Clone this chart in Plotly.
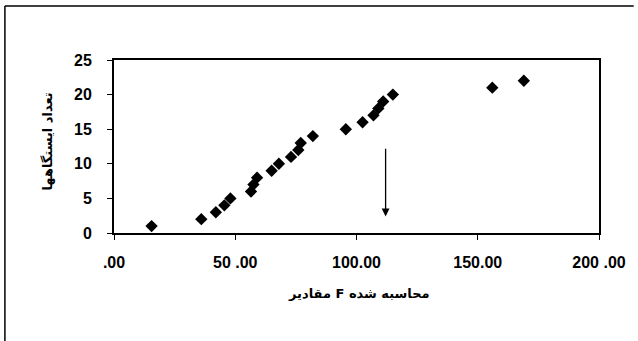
import plotly.graph_objects as go

# Data
f_values = [15.5, 36, 42, 45.5, 48, 56.5, 57.5, 59, 65, 68, 73, 76, 77, 82,
            95.6, 102.5, 107, 109, 111, 115, 156, 169]
station_counts = [1, 2, 3, 4, 5, 6, 7, 8, 9, 10, 11, 12, 13, 14,
                  15, 16, 17, 18, 19, 20, 21, 22]
x_tickvals = [0, 50, 100, 150, 200]
x_ticktext = [".00", "50 .00", "100.00", "150.00", "200 .00"]
y_tickvals = [0, 5, 10, 15, 20, 25]
arrow_x = 112
arrow_from_y = 12.4
arrow_to_y = 2.4

x_title = "مقادیر F محاسبه شده"
y_title = "تعداد ایستگاهها"

W, H = 638, 341
L, R, T, B = 114, 603, 60, 233  # plot area in pixels

def px_x(p):
    return (p - L) / (R - L)

def px_y(p):
    return (B - p) / (B - T)

fig = go.Figure()
fig.add_trace(go.Scatter(
    x=f_values, y=station_counts, mode="markers",
    marker=dict(symbol="diamond", size=9.5, color="black"),
    showlegend=False, hoverinfo="x+y",
))

font_main = "Liberation Sans, Arial, DejaVu Sans, sans-serif"

fig.update_layout(
    width=W, height=H,
    margin=dict(l=L, r=W - R, t=T, b=H - B, pad=0),
    paper_bgcolor="white", plot_bgcolor="white",
    font=dict(family=font_main, color="black", size=16),
    xaxis=dict(
        range=[0, 200], tickvals=x_tickvals, ticktext=x_ticktext,
        showline=True, linecolor="black", linewidth=2, mirror=True,
        ticks="outside", ticklen=5, tickwidth=1, tickcolor="black",
        showgrid=False, zeroline=False, ticklabelstandoff=9,
        tickfont=dict(family="Liberation Sans", size=16, weight="bold"),
    ),
    yaxis=dict(
        range=[0, 25], tickvals=y_tickvals,
        showline=True, linecolor="black", linewidth=2, mirror=True,
        ticks="outside", ticklen=5, tickwidth=1, tickcolor="black",
        showgrid=False, zeroline=False, ticklabelstandoff=12,
        tickfont=dict(family="Liberation Sans", size=16, weight="bold"),
    ),
    annotations=[
        dict(x=arrow_x, y=arrow_to_y, xref="x", yref="y",
             ax=arrow_x, ay=arrow_from_y, axref="x", ayref="y",
             showarrow=True, arrowhead=2, arrowsize=1.2, arrowwidth=1.3,
             arrowcolor="black", text=""),
        dict(text=x_title, xref="paper", yref="paper",
             x=px_x(361), y=px_y(293), showarrow=False,
             xanchor="center", yanchor="middle",
             font=dict(family="DejaVu Sans", size=13, weight="bold")),
        dict(text=y_title, xref="paper", yref="paper",
             x=px_x(46), y=px_y(142), showarrow=False, textangle=-90,
             xanchor="center", yanchor="middle",
             font=dict(family="DejaVu Sans", size=13, weight="bold")),
    ],
    shapes=[
        dict(type="line", xref="paper", yref="paper",
             x0=px_x(4), x1=px_x(W), y0=px_y(6), y1=px_y(6),
             line=dict(color="black", width=1.5)),
        dict(type="line", xref="paper", yref="paper",
             x0=px_x(4), x1=px_x(4), y0=px_y(6), y1=px_y(H),
             line=dict(color="black", width=1.5)),
    ],
)

fig.write_html("out.html", config={"displayModeBar": False},
               post_script="document.body.style.margin='0';document.body.style.overflow='hidden';")
